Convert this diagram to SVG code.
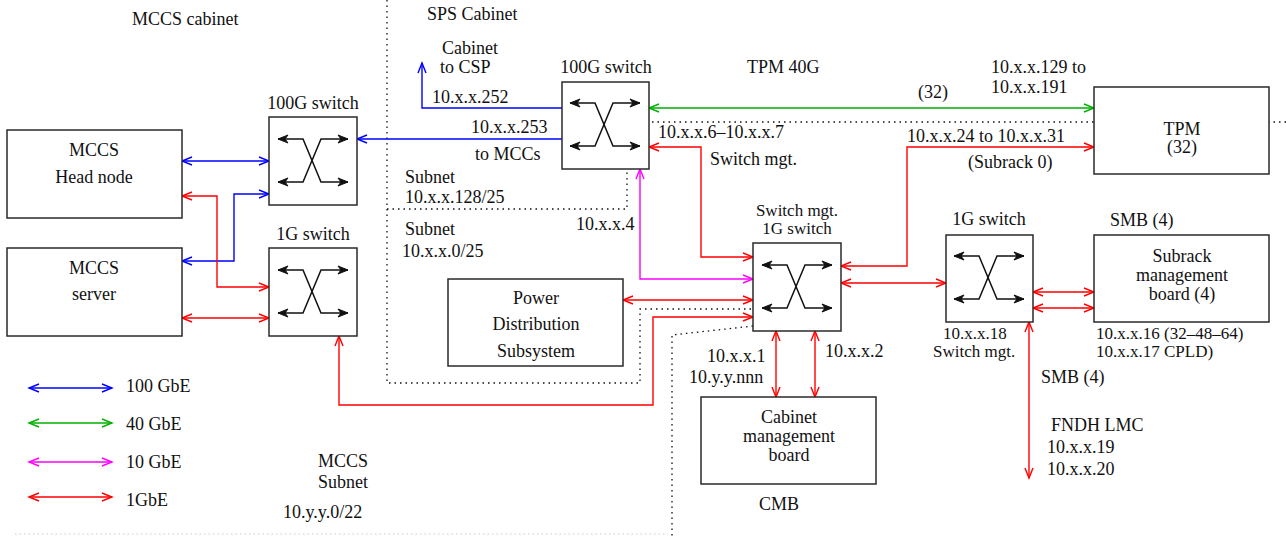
<svg xmlns="http://www.w3.org/2000/svg" width="1286" height="536" viewBox="0 0 1286 536" font-family="'Liberation Serif', 'DejaVu Serif', serif" font-size="18">
<style>
text{font-family:"Liberation Serif","DejaVu Serif",serif;font-size:18px;fill:#111}
.box{fill:#fff;stroke:#2a2a2a;stroke-width:1.5}
.c{fill:none;stroke-width:1.4}
.b{stroke:#0000ff;marker-start:url(#ab);marker-end:url(#ab)}
.g{stroke:#00b000;marker-start:url(#ag);marker-end:url(#ag)}
.m{stroke:#ff00ff;marker-start:url(#am);marker-end:url(#am)}
.r{stroke:#ff0000;marker-start:url(#ar);marker-end:url(#ar)}
.dot{fill:none;stroke:#111;stroke-width:1.3;stroke-dasharray:1.5 4}
.mid{text-anchor:middle}
.sm{font-size:17px}
</style>
<defs>
<marker id="ab" markerUnits="userSpaceOnUse" markerWidth="14" markerHeight="12" refX="11" refY="5" orient="auto-start-reverse"><path d="M1,1 L11,5 L1,9" fill="none" stroke="#0000ff" stroke-width="1.4"/></marker>
<marker id="ag" markerUnits="userSpaceOnUse" markerWidth="14" markerHeight="12" refX="11" refY="5" orient="auto-start-reverse"><path d="M1,1 L11,5 L1,9" fill="none" stroke="#00b000" stroke-width="1.4"/></marker>
<marker id="am" markerUnits="userSpaceOnUse" markerWidth="14" markerHeight="12" refX="11" refY="5" orient="auto-start-reverse"><path d="M1,1 L11,5 L1,9" fill="none" stroke="#ff00ff" stroke-width="1.4"/></marker>
<marker id="ar" markerUnits="userSpaceOnUse" markerWidth="14" markerHeight="12" refX="11" refY="5" orient="auto-start-reverse"><path d="M1,1 L11,5 L1,9" fill="none" stroke="#ff0000" stroke-width="1.4"/></marker>
<marker id="ak" markerUnits="userSpaceOnUse" markerWidth="14" markerHeight="12" refX="11" refY="5" orient="auto-start-reverse"><path d="M1,1 L11,5 L1,9 L4,5 Z" fill="#111" stroke="#111" stroke-width="1"/></marker>
<g id="swx" fill="none" stroke="#111" stroke-width="1.5">
<path d="M9,22 H34 L52,65 H79" marker-start="url(#ak)" marker-end="url(#ak)"/>
<path d="M9,65 H34 L52,22 H79" marker-start="url(#ak)" marker-end="url(#ak)"/>
</g>
</defs>
<rect width="1286" height="536" fill="#fff"/>

<g id="regions">
<path class="dot" d="M387,0 V383 H640 V309 H753"/>
<path class="dot" d="M387,209 H627 V122 H1286"/>
<path class="dot" d="M753,326 L672,335 V536"/>
<path d="M15,534 H668" fill="none" stroke="#ccc" stroke-width="1" stroke-dasharray="1.5 3"/>
<text x="132" y="25">MCCS cabinet</text>
<text x="427" y="20">SPS Cabinet</text>
<text x="405" y="183">Subnet</text>
<text x="405" y="203">10.x.x.128/25</text>
<text x="405" y="235">Subnet</text>
<text x="402" y="257">10.x.x.0/25</text>
<text x="318" y="467">MCCS</text>
<text x="318" y="488">Subnet</text>
<text x="283" y="518">10.y.y.0/22</text>
</g>

<g id="connectors">
<path class="c b" d="M182,161 H269"/>
<path class="c b" d="M269,194 H234 V261 H182"/>
<path class="c r" d="M182,196 H217 V287 H269"/>
<path class="c r" d="M182,318 H269"/>
<path class="c" stroke="#0000ff" marker-end="url(#ab)" d="M562,139 H357"/>
<path class="c" stroke="#0000ff" marker-end="url(#ab)" d="M562,108 H422 V63"/>
<path class="c g" d="M649,108 H1094"/>
<path class="c r" d="M649,147 H701 V257 H753"/>
<path class="c m" d="M640,169 V279 H753"/>
<path class="c r" d="M623,300 H753"/>
<path class="c r" d="M339,336 V405 H653 V317 H753"/>
<path class="c r" d="M841,266 H907 V147 H1094"/>
<path class="c r" d="M841,283 H946"/>
<path class="c r" d="M1033,292 H1094"/>
<path class="c r" d="M1033,308 H1094"/>
<path class="c r" d="M776,331 V397"/>
<path class="c r" d="M815,331 V397"/>
<path class="c r" d="M1029,322 V478"/>
<text x="432" y="103">10.x.x.252</text>
<text x="471" y="133">10.x.x.253</text>
<text x="475" y="160">to MCCs</text>
<text x="442" y="54">Cabinet</text>
<text x="440" y="73">to CSP</text>
<text x="747" y="73">TPM 40G</text>
<text x="918" y="98">(32)</text>
<text x="991" y="73">10.x.x.129 to</text>
<text x="991" y="93">10.x.x.191</text>
<text x="658" y="138">10.x.x.6–10.x.x.7</text>
<text x="710" y="165">Switch mgt.</text>
<text x="907" y="142">10.x.x.24 to 10.x.x.31</text>
<text x="968" y="168">(Subrack 0)</text>
<text x="576" y="230">10.x.x.4</text>
<text x="707" y="362">10.x.x.1</text>
<text x="689" y="383">10.y.y.nnn</text>
<text x="825" y="357">10.x.x.2</text>
<text x="1041" y="383">SMB (4)</text>
<text x="1051" y="431">FNDH LMC</text>
<text x="1047" y="453">10.x.x.19</text>
<text x="1047" y="475">10.x.x.20</text>
</g>

<g id="legend">
<path class="c b" d="M29,388 H112"/>
<path class="c g" d="M29,423 H112"/>
<path class="c m" d="M29,462 H112"/>
<path class="c r" d="M29,497 H112"/>
<text x="126" y="392">100 GbE</text>
<text x="126" y="430">40 GbE</text>
<text x="126" y="468">10 GbE</text>
<text x="126" y="506">1GbE</text>
</g>

<g id="head-node">
<rect class="box" x="7" y="130" width="175" height="88"/>
<text class="mid" x="94" y="156">MCCS</text>
<text class="mid" x="94" y="183">Head node</text>
</g>
<g id="mccs-server">
<rect class="box" x="7" y="248" width="175" height="88"/>
<text class="mid" x="94" y="274">MCCS</text>
<text class="mid" x="94" y="300">server</text>
</g>
<g id="mccs-100g-switch">
<text class="mid" x="313" y="109">100G switch</text>
<rect class="box" x="269" y="117" width="88" height="88"/>
<use href="#swx" x="269" y="117"/>
</g>
<g id="mccs-1g-switch">
<text class="mid" x="313" y="240">1G switch</text>
<rect class="box" x="269" y="248" width="88" height="88"/>
<use href="#swx" x="269" y="248"/>
</g>
<g id="sps-100g-switch">
<text class="mid" x="606" y="73">100G switch</text>
<rect class="box" x="562" y="82" width="87" height="87"/>
<use href="#swx" x="561" y="81"/>
</g>
<g id="pds">
<rect class="box" x="448" y="279" width="175" height="87"/>
<text class="mid" x="536" y="304">Power</text>
<text class="mid" x="536" y="330">Distribution</text>
<text class="mid" x="536" y="357">Subsystem</text>
</g>
<g id="switch-mgt-1g-switch">
<text class="mid sm" x="797" y="216">Switch mgt.</text>
<text class="mid sm" x="797" y="234">1G switch</text>
<rect class="box" x="753" y="243" width="88" height="88"/>
<use href="#swx" x="753" y="243"/>
</g>
<g id="cmb">
<rect class="box" x="701" y="397" width="175" height="87"/>
<text class="mid" x="789" y="423">Cabinet</text>
<text class="mid" x="789" y="442">management</text>
<text class="mid" x="789" y="461">board</text>
<text x="759" y="510">CMB</text>
</g>
<g id="subrack-1g-switch">
<text class="mid" x="989" y="225">1G switch</text>
<rect class="box" x="946" y="235" width="87" height="87"/>
<use href="#swx" x="945" y="234"/>
<text class="sm" x="943" y="339">10.x.x.18</text>
<text class="sm" x="933" y="357">Switch mgt.</text>
</g>
<g id="tpm">
<rect class="box" x="1094" y="87" width="175" height="87"/>
<text class="mid" x="1182" y="135">TPM</text>
<text class="mid" x="1182" y="153">(32)</text>
</g>
<g id="smb">
<text x="1110" y="226">SMB (4)</text>
<rect class="box" x="1094" y="235" width="175" height="87"/>
<text class="mid" x="1182" y="262">Subrack</text>
<text class="mid" x="1182" y="281">management</text>
<text class="mid" x="1182" y="300">board  (4)</text>
<text class="sm" x="1096" y="339">10.x.x.16 (32–48–64)</text>
<text class="sm" x="1096" y="357">10.x.x.17 CPLD)</text>
</g>
</svg>
